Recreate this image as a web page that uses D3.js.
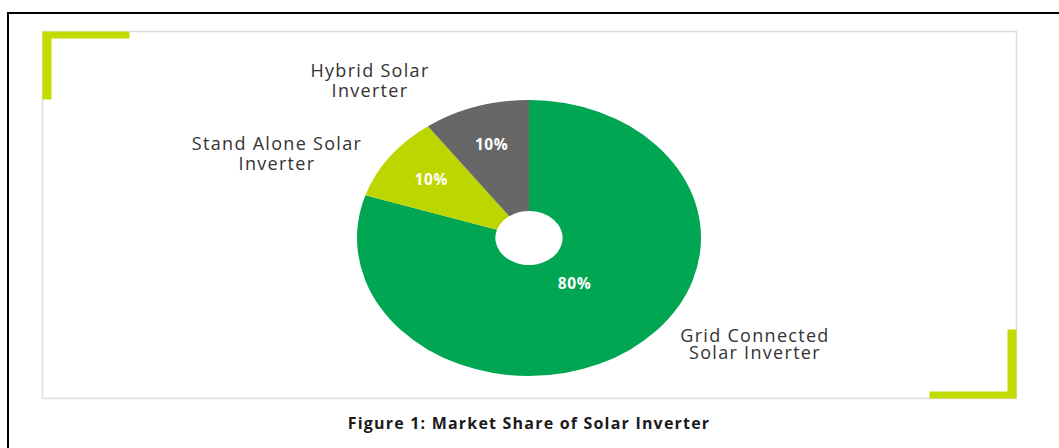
<!DOCTYPE html>
<html lang="en">
<head>
    <meta charset="UTF-8">
    <title>Market Share of Solar Inverter</title>
    <script src="https://d3js.org/d3.v7.min.js"></script>
    <style>
        body {
            margin: 0;
            background: #fff;
            font-family: "Open Sans", Lato, sans-serif;
        }
        svg { display: block; }
    </style>
</head>
<body>
    <svg id="chart"></svg>

    <script>
        // data
        const categories = ["Grid Connected Solar Inverter", "Stand Alone Solar Inverter", "Hybrid Solar Inverter"];
        const shares = [80, 10, 10];
        const colors = ["#00a651", "#bed600", "#676767"];
        const labelLines = [["Grid Connected", "Solar Inverter"], ["Stand Alone Solar", "Inverter"], ["Hybrid Solar", "Inverter"]];
        const caption = "Figure 1: Market Share of Solar Inverter";

        const width = 1059;
        const height = 448;

        const svg = d3.select("#chart")
            .attr("width", width)
            .attr("height", height);

        // outer frame (runs off the right/bottom edge)
        svg.append("rect")
            .attr("x", 8).attr("y", 13)
            .attr("width", 1100).attr("height", 500)
            .attr("fill", "none")
            .attr("stroke", "#000")
            .attr("stroke-width", 2);

        // panel
        const panel = { x: 42.5, y: 31.5, w: 974, h: 367 };
        svg.append("rect")
            .attr("x", panel.x).attr("y", panel.y)
            .attr("width", panel.w).attr("height", panel.h)
            .attr("fill", "#fff")
            .attr("stroke", "#dedede")
            .attr("stroke-width", 1.5);

        // accent corners
        const accent = "#c2db00";
        const th = 8;
        const x0 = panel.x, y0 = panel.y, x1 = panel.x + panel.w, y1 = panel.y + panel.h;
        svg.append("path")
            .attr("fill", accent)
            .attr("d", `M${x0},${y0}H${x0 + 87}V${y0 + 7}H${x0 + th + 1}V${y0 + 68}H${x0}Z`);
        svg.append("path")
            .attr("fill", accent)
            .attr("d", `M${x1},${y1}H${x1 - 87}V${y1 - 7}H${x1 - th - 1}V${y1 - 69}H${x1}Z`);

        // pie (circle in data space, stretched into an ellipse)
        const cx = 529, cy = 238;
        const r = 138;
        const sx = 172 / 138;

        const pie = d3.pie()
            .sort(null)
            .startAngle(0)
            .endAngle(2 * Math.PI)
            .value(d => d);

        const arcs = pie(shares);

        const arc = d3.arc()
            .innerRadius(27)
            .outerRadius(r);

        const g = svg.append("g")
            .attr("transform", `translate(${cx},${cy})`);

        g.append("g")
            .attr("transform", `scale(${sx},1)`)
            .selectAll("path")
            .data(arcs)
            .join("path")
            .attr("d", arc)
            .attr("fill", (d, i) => colors[i]);

        // percent labels
        const labelR = d => (d.value > 50 ? 58 : 97);
        const mid = d => (d.startAngle + d.endAngle) / 2;
        g.selectAll("text.pct")
            .data(arcs)
            .join("text")
            .attr("class", "pct")
            .attr("x", d => Math.sin(mid(d)) * labelR(d) * sx + (d.value > 50 ? 3 : 0))
            .attr("y", d => -Math.cos(mid(d)) * labelR(d) + 4)
            .attr("text-anchor", "middle")
            .attr("fill", "#fff")
            .attr("font-weight", "bold")
            .attr("font-size", 15.5)
            .attr("letter-spacing", 0.6)
            .text(d => d.value + "%");

        // category labels
        const labelPos = [[226, 104], [-252, -88], [-159, -161]];
        labelLines.forEach((lines, i) => {
            const t = g.append("text")
                .attr("x", labelPos[i][0])
                .attr("y", labelPos[i][1])
                .attr("text-anchor", "middle")
                .attr("fill", "#333")
                .attr("font-size", 18)
                .attr("letter-spacing", 1.3);
            lines.forEach((line, j) => {
                t.append("tspan")
                    .attr("x", labelPos[i][0])
                    .attr("dy", j === 0 ? 0 : (i === 0 ? 17 : 20))
                    .text(line);
            });
        });

        // caption
        svg.append("text")
            .attr("x", 529)
            .attr("y", 429)
            .attr("text-anchor", "middle")
            .attr("font-weight", "bold")
            .attr("font-size", 16)
            .attr("letter-spacing", 1.2)
            .attr("fill", "#1a1a1a")
            .text(caption);
    </script>
</body>
</html>
